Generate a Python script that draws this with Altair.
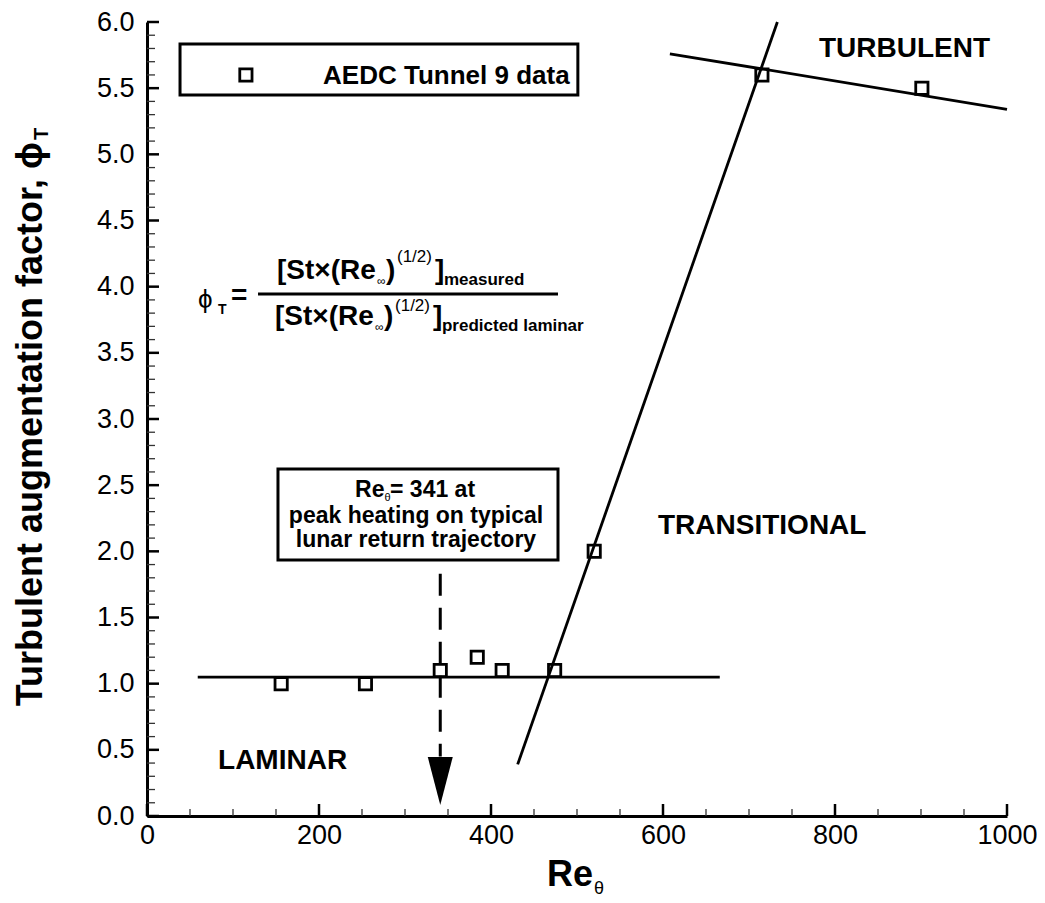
import altair as alt
import pandas as pd

FONT = "Liberation Sans, Arial, DejaVu Sans, sans-serif"

# ---- measured data (AEDC Tunnel 9) ----
re_theta = [156, 254, 341, 384, 413, 474, 520, 715, 901]
phi_t = [1.0, 1.0, 1.1, 1.2, 1.1, 1.1, 2.0, 5.6, 5.5]

# ---- regime lines ----
line_seg = ["laminar", "laminar", "transitional", "transitional", "turbulent", "turbulent"]
line_x = [59, 666, 431, 733, 608, 1000]
line_y = [1.05, 1.05, 0.39, 6.0, 5.76, 5.34]

# ---- peak-heating marker (Re_theta = 341) ----
arrow_x = [341]
arrow_top = [1.83]
arrow_bottom = [0.45]
arrow_head_y = [0.264]

# ---- axis ticks ----
x_major = [0, 200, 400, 600, 800, 1000]
x_minor = [i * 50 for i in range(21) if i % 4 != 0]
y_major = [0.0, 0.5, 1.0, 1.5, 2.0, 2.5, 3.0, 3.5, 4.0, 4.5, 5.0, 5.5, 6.0]
y_minor = [round(i * 0.1, 1) for i in range(61) if i % 5 != 0]

# ---- boxes (legend, annotation) in data units ----
box_x = [38.4, 152.3]
box_x2 = [501.0, 477.9]
box_y = [5.834, 2.622]
box_y2 = [5.449, 1.935]

# legend symbol
legend_x = [115]
legend_y = [5.6]

# fraction bar of the formula
frac_x = [129.1]
frac_x2 = [477.9]
frac_y = [3.945]

# ---- annotation texts: (text, x, y, font size) ----
bold_left = [
    ("TURBULENT", 781.4, 5.736, 28),
    ("TRANSITIONAL", 594.2, 2.131, 28),
    ("LAMINAR", 82.6, 0.355, 28),
    ("AEDC Tunnel 9 data", 204.7, 5.53, 26),
    ("T", 82.6, 3.794, 14),
    ("=", 97.7, 3.869, 28),
    ("[St×(Re", 151.2, 4.058, 28),
    (")", 277.9, 4.058, 28),
    ("]", 334.9, 4.058, 28),
    ("measured", 345.3, 4.013, 17),
    ("[St×(Re", 148.8, 3.710, 28),
    (")", 275.6, 3.710, 28),
    ("]", 332.6, 3.710, 28),
    ("predicted laminar", 343.0, 3.665, 17),
    ("Re", 241.9, 2.411, 23),
    ("= 341 at", 282.6, 2.411, 23),
]
regular_left = [
    ("ϕ", 59.3, 3.839, 26),
    ("∞", 267.4, 4.013, 12),
    ("(1/2)", 290.7, 4.186, 17),
    ("∞", 265.1, 3.665, 12),
    ("(1/2)", 288.4, 3.816, 17),
    ("θ", 276.2, 2.380, 11),
]
bold_center = [
    ("peak heating on typical", 312.8, 2.214, 23),
    ("lunar return trajectory", 312.8, 2.033, 23),
]

xs = alt.Scale(domain=[0, 1000], nice=False, zero=False)
ys = alt.Scale(domain=[0, 6], nice=False, zero=False)
xax = alt.Axis(values=x_major, format="d", title=None, ticks=False, tickSize=0, grid=False,
               labelFont=FONT, labelFontSize=27, labelColor="black", labelPadding=6,
               domainColor="black", domainWidth=3, labelFlush=False)
yax = alt.Axis(values=y_major, format=".1f", title=None, ticks=False, tickSize=0, grid=False,
               labelFont=FONT, labelFontSize=27, labelColor="black", labelPadding=13,
               domainColor="black", domainWidth=3)


def X(f):
    return alt.X(f, type="quantitative", scale=xs, axis=xax)


def Y(f):
    return alt.Y(f, type="quantitative", scale=ys, axis=yax)


pts = pd.DataFrame({"x": re_theta, "y": phi_t})
lines = pd.DataFrame({"seg": line_seg, "x": line_x, "y": line_y})

# ticks (pointing into the plot)
ymaj = alt.Chart(pd.DataFrame({"y": y_major})).mark_rule(color="black", strokeWidth=2.5).encode(
    y=Y("y"), x=alt.value(0), x2=alt.value(12))
ymin = alt.Chart(pd.DataFrame({"y": y_minor})).mark_rule(color="#333", strokeWidth=1.3).encode(
    y=Y("y"), x=alt.value(0), x2=alt.value(8))
xmaj = alt.Chart(pd.DataFrame({"x": x_major})).mark_rule(color="black", strokeWidth=2.5).encode(
    x=X("x"), y=alt.value(794), y2=alt.value(782))
xmin = alt.Chart(pd.DataFrame({"x": x_minor})).mark_rule(color="#333", strokeWidth=1.3).encode(
    x=X("x"), y=alt.value(794), y2=alt.value(787))

boxes = alt.Chart(pd.DataFrame({"x": box_x, "x2": box_x2, "y": box_y, "y2": box_y2})).mark_rect(
    fill="white", stroke="black", strokeWidth=3).encode(
    x=X("x"), x2=alt.X2("x2"), y=Y("y"), y2=alt.Y2("y2"))

frac = alt.Chart(pd.DataFrame({"x": frac_x, "x2": frac_x2, "y": frac_y})).mark_rule(
    color="black", strokeWidth=3).encode(x=X("x"), x2=alt.X2("x2"), y=Y("y"))

reg_lines = alt.Chart(lines).mark_line(color="black", strokeWidth=2.8).encode(
    x=X("x"), y=Y("y"), detail="seg:N")

sq_style = dict(shape="square", filled=False, stroke="black", strokeWidth=2.8, size=150, opacity=1)
points = alt.Chart(pts).mark_point(**sq_style).encode(x=X("x"), y=Y("y"))
legend_pt = alt.Chart(pd.DataFrame({"x": legend_x, "y": legend_y})).mark_point(**sq_style).encode(
    x=X("x"), y=Y("y"))

dashed = alt.Chart(pd.DataFrame({"x": arrow_x, "y": arrow_top, "y2": arrow_bottom})).mark_rule(
    color="black", strokeWidth=3, strokeDash=[22, 12]).encode(x=X("x"), y=Y("y"), y2=alt.Y2("y2"))
head = alt.Chart(pd.DataFrame({"x": arrow_x, "y": arrow_head_y})).mark_point(
    shape="M -0.52 -1 L 0.52 -1 L 0 1 Z", filled=True, color="black", size=2304, opacity=1).encode(
    x=X("x"), y=Y("y"))


def texts(rows, weight, align):
    df = pd.DataFrame(rows, columns=["t", "x", "y", "s"])
    return alt.Chart(df).mark_text(font=FONT, fontWeight=weight, align=align,
                                   baseline="alphabetic", color="black").encode(
        x=X("x"), y=Y("y"), text="t:N", size=alt.Size("s:Q", scale=None))


t1 = texts(bold_left, "bold", "left")
t2 = texts(regular_left, "normal", "left")
t3 = texts(bold_center, "bold", "center")

# axis titles with subscripts
ytitle = alt.Chart(pd.DataFrame({"t": ["Turbulent augmentation factor, ϕ"]})).mark_text(
    font=FONT, fontWeight="bold", fontSize=36, angle=270, align="right", baseline="alphabetic",
    color="black").encode(text="t:N", x=alt.value(-105), y=alt.value(120))
ysub = alt.Chart(pd.DataFrame({"t": ["T"]})).mark_text(
    font=FONT, fontWeight="bold", fontSize=20, angle=270, align="left", baseline="alphabetic",
    color="black").encode(text="t:N", x=alt.value(-99), y=alt.value(118))
xtitle = alt.Chart(pd.DataFrame({"t": ["Re"]})).mark_text(
    font=FONT, fontWeight="bold", fontSize=36, align="left", baseline="alphabetic",
    color="black").encode(text="t:N", x=alt.value(400), y=alt.value(864))
xsub = alt.Chart(pd.DataFrame({"t": ["θ"]})).mark_text(
    font=FONT, fontWeight="normal", fontSize=18, align="left", baseline="alphabetic",
    color="black").encode(text="t:N", x=alt.value(447), y=alt.value(872))

chart = alt.layer(
    boxes, frac, ymin, ymaj, xmin, xmaj, reg_lines, points, legend_pt, dashed, head,
    t1, t2, t3, ytitle, ysub, xtitle, xsub
).properties(
    width=860, height=794,
    autosize=alt.AutoSizeParams(type="none"),
    padding={"left": 139, "top": 14, "right": 30, "bottom": 86},
    background="white",
).configure_view(stroke=None)

chart.save("out.html", embed_options={"renderer": "svg", "actions": False})
